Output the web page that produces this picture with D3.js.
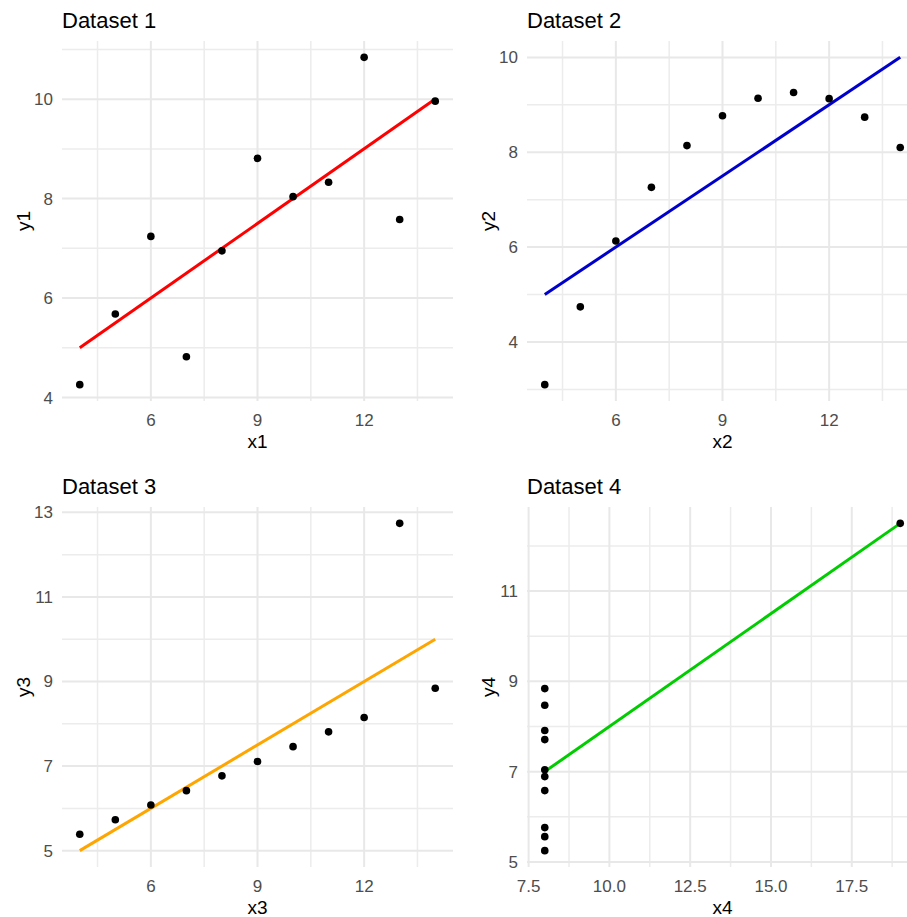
<!DOCTYPE html>
<html>
<head>
<meta charset="utf-8">
<script src="https://cdn.jsdelivr.net/npm/d3@7"></script>
<style>
  body { margin: 0; background: #fff; }
  text { font-family: "Liberation Sans", Arial, sans-serif; }
</style>
</head>
<body>
<svg width="907" height="917"></svg>
<script>
// anscombe's quartet
var x1 = [10, 8, 13, 9, 11, 14, 6, 4, 12, 7, 5],
    y1 = [8.04, 6.95, 7.58, 8.81, 8.33, 9.96, 7.24, 4.26, 10.84, 4.82, 5.68],
    x2 = [10, 8, 13, 9, 11, 14, 6, 4, 12, 7, 5],
    y2 = [9.14, 8.14, 8.74, 8.77, 9.26, 8.10, 6.13, 3.10, 9.13, 7.26, 4.74],
    x3 = [10, 8, 13, 9, 11, 14, 6, 4, 12, 7, 5],
    y3 = [7.46, 6.77, 12.74, 7.11, 7.81, 8.84, 6.08, 5.39, 8.15, 6.42, 5.73],
    x4 = [8, 8, 8, 8, 8, 8, 8, 19, 8, 8, 8],
    y4 = [6.58, 5.76, 7.71, 8.84, 8.47, 7.04, 5.25, 12.50, 5.56, 7.91, 6.89];

// tick values for each panel
var xTicks1 = [6, 9, 12], yTicks1 = [4, 6, 8, 10],
    xTicks2 = [6, 9, 12], yTicks2 = [4, 6, 8, 10],
    xTicks3 = [6, 9, 12], yTicks3 = [5, 7, 9, 11, 13],
    xTicks4 = [7.5, 10, 12.5, 15, 17.5], yTicks4 = [5, 7, 9, 11];

var titles = ["Dataset 1", "Dataset 2", "Dataset 3", "Dataset 4"],
    lineColors = ["#ff0000", "#0000cd", "#ffa500", "#00cd00"];

var svg = d3.select("svg");
var pw = 391, ph = 360; // panel size
var lefts = [62, 527], tops = [41, 507];

var panels = [
  {x: x1, y: y1, xt: xTicks1, yt: yTicks1, xf: d3.format("d")},
  {x: x2, y: y2, xt: xTicks2, yt: yTicks2, xf: d3.format("d")},
  {x: x3, y: y3, xt: xTicks3, yt: yTicks3, xf: d3.format("d")},
  {x: x4, y: y4, xt: xTicks4, yt: yTicks4, xf: d3.format(".1f")}
];

// least squares fit, like geom_smooth(method = "lm")
function fit(xs, ys) {
  var mx = d3.mean(xs), my = d3.mean(ys);
  var sxy = d3.sum(xs, function(d, i) { return (d - mx) * (ys[i] - my); });
  var sxx = d3.sum(xs, function(d) { return (d - mx) * (d - mx); });
  var b = sxy / sxx;
  return {a: my - b * mx, b: b};
}

// ggplot style 5% expansion
function expand(ext) {
  var pad = (ext[1] - ext[0]) * 0.05;
  return [ext[0] - pad, ext[1] + pad];
}

// minor breaks halfway between majors
function minors(ticks, dom) {
  var step = ticks[1] - ticks[0], out = [];
  for (var v = ticks[0] - step / 2; v <= dom[1]; v += step) {
    if (v >= dom[0]) out.push(v);
  }
  return out;
}

panels.forEach(function(p, i) {
  var left = lefts[i % 2], top = tops[Math.floor(i / 2)];
  var n = i + 1;
  var lm = fit(p.x, p.y);
  var xmin = d3.min(p.x), xmax = d3.max(p.x);
  var lineY = [lm.a + lm.b * xmin, lm.a + lm.b * xmax];

  var xDom = expand([xmin, xmax]);
  var yDom = expand(d3.extent(p.y.concat(lineY)));

  var x = d3.scaleLinear().domain(xDom).range([0, pw]);
  var y = d3.scaleLinear().domain(yDom).range([ph, 0]);

  var g = svg.append("g")
      .attr("transform", "translate(" + left + "," + top + ")");

  // minor grid
  g.selectAll(".xminor").data(minors(p.xt, xDom)).enter().append("line")
      .attr("x1", function(d) { return x(d); }).attr("x2", function(d) { return x(d); })
      .attr("y1", 0).attr("y2", ph)
      .attr("stroke", "#ececec").attr("stroke-width", 1.5);
  g.selectAll(".yminor").data(minors(p.yt, yDom)).enter().append("line")
      .attr("y1", function(d) { return y(d); }).attr("y2", function(d) { return y(d); })
      .attr("x1", 0).attr("x2", pw)
      .attr("stroke", "#ececec").attr("stroke-width", 1.5);

  // major grid
  g.selectAll(".xmajor").data(p.xt).enter().append("line")
      .attr("x1", function(d) { return x(d); }).attr("x2", function(d) { return x(d); })
      .attr("y1", 0).attr("y2", ph)
      .attr("stroke", "#e8e8e8").attr("stroke-width", 2);
  g.selectAll(".ymajor").data(p.yt).enter().append("line")
      .attr("y1", function(d) { return y(d); }).attr("y2", function(d) { return y(d); })
      .attr("x1", 0).attr("x2", pw)
      .attr("stroke", "#e8e8e8").attr("stroke-width", 2);

  // tick labels
  g.selectAll(".xlab").data(p.xt).enter().append("text")
      .attr("x", function(d) { return x(d); })
      .attr("y", ph + 25)
      .attr("text-anchor", "middle")
      .attr("fill", "#4d4d4d")
      .style("font-size", "17px")
      .text(p.xf);
  g.selectAll(".ylab").data(p.yt).enter().append("text")
      .attr("x", -9)
      .attr("y", function(d) { return y(d); })
      .attr("dy", "0.35em")
      .attr("text-anchor", "end")
      .attr("fill", "#4d4d4d")
      .style("font-size", "17px")
      .text(d3.format("d"));

  // axis titles
  g.append("text")
      .attr("x", pw / 2)
      .attr("y", ph + 47)
      .attr("text-anchor", "middle")
      .style("font-size", "19px")
      .text("x" + n);
  g.append("text")
      .attr("transform", "translate(-32," + (ph / 2) + ") rotate(-90)")
      .attr("text-anchor", "middle")
      .style("font-size", "19px")
      .text("y" + n);

  // title
  g.append("text")
      .attr("x", 0)
      .attr("y", -13)
      .style("font-size", "22px")
      .text(titles[i]);

  // regression line
  g.append("line")
      .attr("x1", x(xmin)).attr("y1", y(lineY[0]))
      .attr("x2", x(xmax)).attr("y2", y(lineY[1]))
      .attr("stroke", lineColors[i])
      .attr("stroke-width", 3);

  // points
  g.selectAll(".pt").data(p.x).enter().append("circle")
      .attr("cx", function(d) { return x(d); })
      .attr("cy", function(d, j) { return y(p.y[j]); })
      .attr("r", 3.8)
      .attr("fill", "#000");
});
</script>
</body>
</html>
